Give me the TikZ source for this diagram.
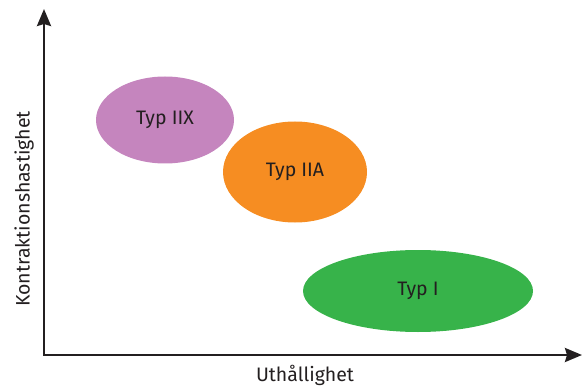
\documentclass[tikz,border=0pt]{standalone}
\usepackage{fontspec}
\setmainfont{Fira Sans}
\usetikzlibrary{shapes.geometric,arrows.meta}
\definecolor{typiix}{HTML}{C585BE}
\definecolor{typiia}{HTML}{F68D22}
\definecolor{typi}{HTML}{37B34A}
\definecolor{textgray}{HTML}{231F20}
\begin{document}
\begin{tikzpicture}[x=1pt, y=1pt,
    every node/.style={font=\fontsize{19.5}{22}\selectfont, text=textgray},
    fiber/.style={ellipse, inner sep=0pt},
    axis/.style={line width=2.5pt, draw=textgray, {Stealth[length=17pt,width=14pt,inset=2pt]}-{Stealth[length=17pt,width=14pt,inset=2pt]}}]
    \useasboundingbox (0,0) rectangle (583,386);

    \coordinate (o) at (44,31);
    \coordinate (ytop) at (44,377);
    \coordinate (xend) at (582,31);
    \draw[axis] (ytop) -- (o) -- (xend);

    \node (xlabel) at (305,11) {Uthållighet};
    \node[rotate=90] (ylabel) at (24,177) {Kontraktionshastighet};

    \node[fiber, fill=typiix, minimum width=138, minimum height=87] (iix) at (165,266) {Typ IIX};
    \node[fiber, fill=typiia, minimum width=144, minimum height=101] (iia) at (295,214) {Typ IIA};
    \node[fiber, fill=typi, minimum width=230, minimum height=82] (i) at (418,95) {Typ I};
\end{tikzpicture}
\end{document}
